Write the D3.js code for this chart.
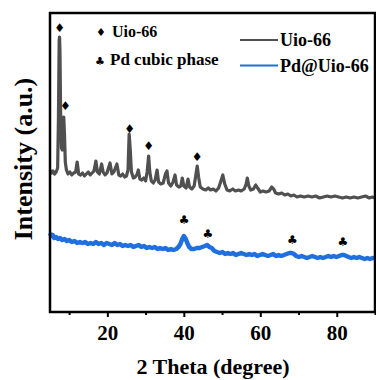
<!DOCTYPE html>
<html>
<head>
<meta charset="utf-8">
<script src="https://cdn.jsdelivr.net/npm/d3@7"></script>
<style>
    body { margin: 0; background: #fff; }
    svg text { font-family: "Liberation Serif", "Times New Roman", serif; font-weight: bold; }
</style>
</head>
<body>
<div id="chart"></div>
<script>
// XRD patterns, [2 theta, intensity (a.u.)]
const uioData = [
    [5.0,142],[5.4,139],[5.8,141],[6.2,138],[6.6,140],[7.0,144],[7.2,192],[7.4,272],[7.5,275],[7.6,262],
    [7.8,192],[8.0,164],[8.2,162],[8.4,187],[8.6,195],[8.8,177],[9.0,150],[9.3,142],[9.7,138],[10.2,140],
    [10.7,137],[11.2,139],[11.7,140],[12.1,150],[12.5,138],[13.0,137],[13.5,139],[14.0,136],[14.5,138],[15.0,140],
    [15.5,137],[16.0,139],[16.5,141],[17.0,151],[17.4,140],[17.9,138],[18.5,148],[18.9,140],[19.4,137],[19.9,139],
    [20.7,149],[21.2,138],[21.7,140],[22.5,148],[23.0,137],[23.5,136],[24.0,138],[24.5,135],[25.0,136],[25.4,142],
    [25.7,178],[26.0,162],[26.3,140],[26.8,134],[27.3,135],[27.8,138],[28.1,142],[28.5,133],[29.0,132],[29.5,134],
    [30.0,131],[30.4,140],[30.8,156],[31.1,140],[31.5,131],[32.0,129],[32.5,132],[33.0,142],[33.4,130],[34.0,128],
    [34.6,129],[35.2,138],[35.6,141],[36.0,129],[36.6,126],[37.2,130],[37.7,137],[38.1,127],[38.7,125],[39.2,126],
    [39.6,134],[40.0,126],[40.6,124],[41.1,133],[41.5,125],[42.1,123],[42.7,126],[43.1,136],[43.5,146],[43.9,134],
    [44.3,125],[45.0,123],[45.7,122],[46.4,124],[47.0,122],[47.7,123],[48.4,121],[49.1,124],[49.7,131],[50.2,137],
    [50.7,128],[51.3,122],[52.0,121],[52.8,123],[53.5,121],[54.3,122],[55.0,121],[55.8,123],[56.3,128],[56.6,134],
    [57.0,126],[57.5,122],[58.2,123],[58.8,127],[59.3,124],[60.0,120],[60.7,121],[61.5,120],[62.3,121],[63.0,125],
    [63.5,123],[64.0,119],[64.8,118],[65.6,119],[66.4,117],[67.2,118],[68.0,116],[68.8,117],[69.6,115],[70.5,116],
    [71.5,115],[72.5,116],[73.5,115],[74.5,116],[75.5,114],[76.5,115],[77.5,116],[78.5,115],[79.5,116],[80.5,115],
    [81.5,114],[82.5,115],[83.5,114],[84.5,115],[85.5,114],[86.5,115],[87.5,116],[88.5,114],[89.3,115],[90.0,114]
];

const pdUioData = [
    [5.0,79],[5.3,76],[5.7,77],[6.1,74],[6.6,75],[7.1,73],[7.6,74],[8.2,72],[8.8,73],[9.4,71],
    [10.0,72],[10.7,70],[11.4,71],[12.1,69],[12.8,70],[13.5,69],[14.2,70],[14.9,68],[15.6,69],[16.3,68],
    [17.0,70],[17.7,68],[18.4,69],[19.1,67],[19.8,69],[20.5,68],[21.2,67],[21.9,69],[22.6,67],[23.3,68],
    [24.0,66],[24.7,67],[25.4,66],[26.1,67],[26.8,65],[27.5,66],[28.2,67],[28.9,65],[29.6,66],[30.3,64],
    [31.0,65],[31.7,64],[32.4,65],[33.1,63],[33.8,64],[34.5,63],[35.2,64],[35.9,62],[36.6,63],[37.3,62],
    [38.0,63],[38.6,65],[39.1,68],[39.6,73],[40.0,76],[40.4,74],[40.9,69],[41.4,65],[42.0,63],[42.7,63],
    [43.4,64],[44.1,64],[44.8,65],[45.5,66],[46.1,67],[46.7,65],[47.3,64],[48.0,61],[48.7,60],[49.4,59],
    [50.1,60],[50.8,58],[51.5,59],[52.2,58],[52.9,59],[53.6,57],[54.3,58],[55.0,59],[55.7,58],[56.4,57],
    [57.1,58],[57.8,57],[58.5,58],[59.2,56],[59.9,57],[60.6,58],[61.3,57],[62.0,56],[62.7,57],[63.4,58],
    [64.1,56],[64.8,57],[65.5,56],[66.2,57],[66.9,58],[67.6,59],[68.2,59],[68.8,58],[69.4,56],[70.1,55],
    [70.8,56],[71.5,55],[72.2,54],[72.9,55],[73.6,56],[74.3,55],[75.0,54],[75.7,55],[76.4,54],[77.1,55],
    [77.8,56],[78.5,55],[79.2,56],[79.9,55],[80.6,56],[81.3,57],[81.9,57],[82.5,56],[83.1,55],[83.8,54],
    [84.5,55],[85.2,54],[85.9,55],[86.6,54],[87.3,53],[88.0,54],[88.7,53],[89.4,54],[90.0,54]
];

// peak markers: diamonds for Uio-66, clubs for Pd cubic phase
const uioPeaks = [[7.5,284],[9.0,206],[25.8,183],[30.8,166],[43.5,155]];
const pdPeaks = [[40.1,92],[46.3,78],[68.4,72],[81.6,70]];

const majorTicks = [20, 40, 60, 80];
const minorTicks = [10, 30, 50, 70, 90];

const seriesNames = ["Uio-66", "Pd@Uio-66"];
const seriesColors = ["#505050", "#1f6fdf"];

const width = 376;
const height = 380;
const margin = { top: 13, right: 1, bottom: 68, left: 50 };

const svg = d3.select("#chart")
    .append("svg")
    .attr("width", width)
    .attr("height", height);

const x = d3.scaleLinear()
    .domain([5, 90])
    .range([margin.left, width - margin.right]);

const y = d3.scaleLinear()
    .domain([0, 299])
    .range([height - margin.bottom, margin.top]);

const line = d3.line()
    .x(d => x(d[0]))
    .y(d => y(d[1]));

// curves
svg.append("path")
    .datum(uioData)
    .attr("fill", "none")
    .attr("stroke", seriesColors[0])
    .attr("stroke-width", 3.2)
    .attr("stroke-linejoin", "round")
    .attr("d", line);

svg.append("path")
    .datum(pdUioData)
    .attr("fill", "none")
    .attr("stroke", seriesColors[1])
    .attr("stroke-width", 4.5)
    .attr("stroke-linejoin", "round")
    .attr("d", line);

// peak symbols
svg.selectAll(".uio-mark")
    .data(uioPeaks)
    .enter()
    .append("text")
    .attr("class", "uio-mark")
    .attr("x", d => x(d[0]))
    .attr("y", d => y(d[1]))
    .attr("text-anchor", "middle")
    .attr("dominant-baseline", "central")
    .style("font-family", "DejaVu Sans")
    .style("font-size", "12px")
    .text("\u2666");

svg.selectAll(".pd-mark")
    .data(pdPeaks)
    .enter()
    .append("text")
    .attr("class", "pd-mark")
    .attr("x", d => x(d[0]))
    .attr("y", d => y(d[1]))
    .attr("text-anchor", "middle")
    .attr("dominant-baseline", "central")
    .style("font-family", "DejaVu Sans")
    .style("font-size", "12px")
    .text("\u2663");

// x axis with major and minor ticks
const xAxis = svg.append("g")
    .attr("transform", `translate(0,${height - margin.bottom})`)
    .call(d3.axisBottom(x).tickValues(majorTicks).tickSize(5).tickPadding(8).tickFormat(d3.format("d")));

xAxis.select(".domain").remove();
xAxis.selectAll("line").attr("stroke", "#000").attr("stroke-width", 2);
xAxis.selectAll("text")
    .attr("fill", "#000")
    .style("font-size", "21px");

svg.append("g")
    .attr("transform", `translate(0,${height - margin.bottom})`)
    .call(d3.axisBottom(x).tickValues(minorTicks).tickSize(3).tickFormat(""))
    .call(g => g.select(".domain").remove())
    .selectAll("line").attr("stroke", "#000").attr("stroke-width", 2);

// frame
svg.append("rect")
    .attr("x", margin.left)
    .attr("y", margin.top)
    .attr("width", width - margin.right - margin.left)
    .attr("height", height - margin.bottom - margin.top)
    .attr("fill", "none")
    .attr("stroke", "#000")
    .attr("stroke-width", 2.5);

// axis titles
svg.append("text")
    .attr("x", 213)
    .attr("y", 374)
    .attr("text-anchor", "middle")
    .style("font-size", "22px")
    .text("2 Theta (degree)");

svg.append("text")
    .attr("transform", "translate(32,159) rotate(-90)")
    .attr("text-anchor", "middle")
    .style("font-size", "26px")
    .text("Intensity (a.u.)");

// symbol legend
svg.append("text").attr("x", 101).attr("y", 32)
    .attr("text-anchor", "middle").attr("dominant-baseline", "central")
    .style("font-family", "DejaVu Sans").style("font-size", "11px")
    .text("\u2666");
svg.append("text").attr("x", 112).attr("y", 37).style("font-size", "16px").text("Uio-66");

svg.append("text").attr("x", 100).attr("y", 61)
    .attr("text-anchor", "middle").attr("dominant-baseline", "central")
    .style("font-family", "DejaVu Sans").style("font-size", "11px")
    .text("\u2663");
svg.append("text").attr("x", 110).attr("y", 65).style("font-size", "17px").text("Pd cubic phase");

// series legend
const legend = svg.selectAll(".legend")
    .data(seriesNames)
    .enter()
    .append("g")
    .attr("class", "legend")
    .attr("transform", (d, i) => `translate(240,${40 + i * 25.5})`);

legend.append("line")
    .attr("x1", 0)
    .attr("x2", 38)
    .attr("stroke", (d, i) => seriesColors[i])
    .attr("stroke-width", 2);

legend.append("text")
    .attr("x", 40)
    .attr("y", 6)
    .style("font-size", "18px")
    .text(d => d);
</script>
</body>
</html>
